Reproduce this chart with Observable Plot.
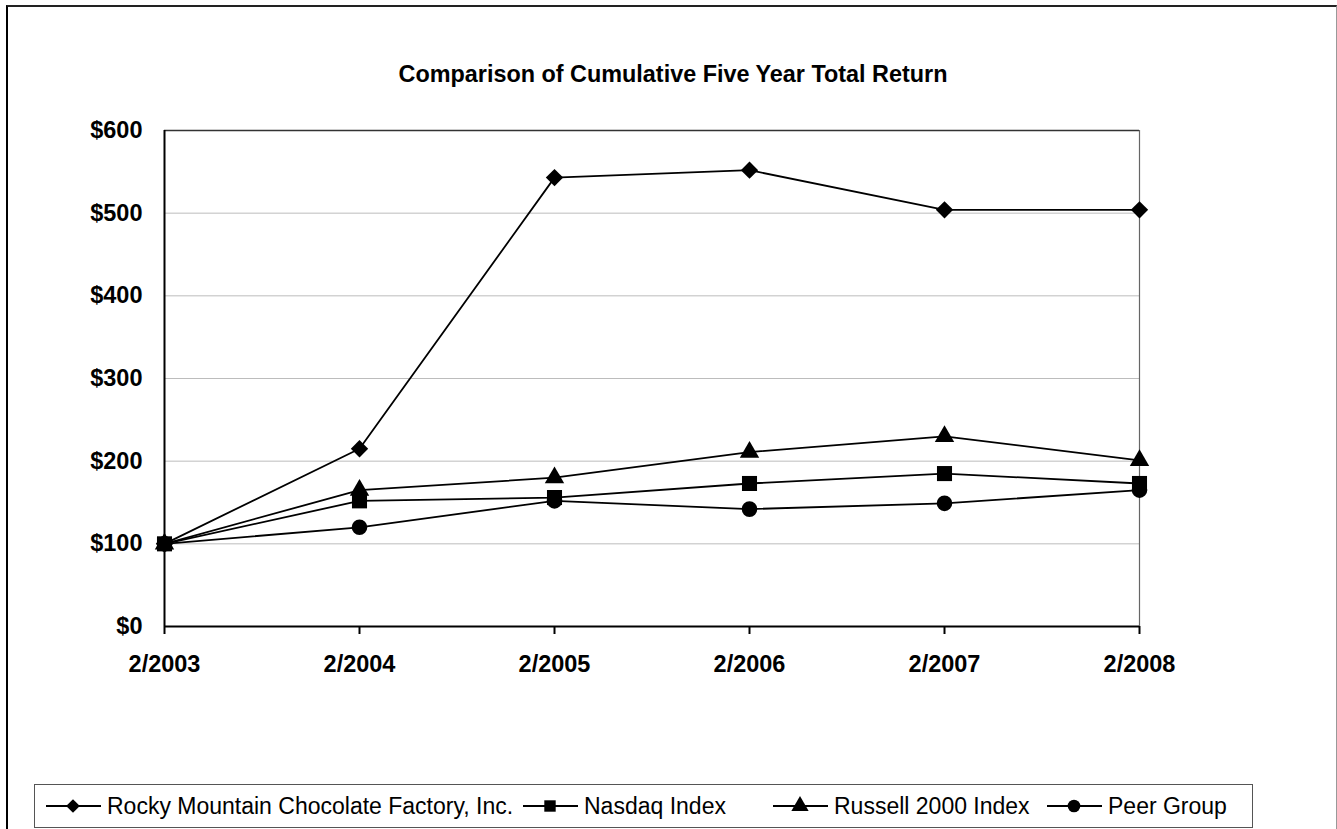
<!DOCTYPE html>
<html>
<head>
<meta charset="utf-8">
<script src="https://cdn.jsdelivr.net/npm/d3@7"></script>
<script src="https://cdn.jsdelivr.net/npm/@observablehq/plot@0.6"></script>
<style>
  html, body { margin: 0; padding: 0; background: #fff; }
  body { font-family: "Liberation Sans", Arial, sans-serif; }
  #wrap { position: relative; width: 1337px; height: 829px; overflow: hidden; background: #fff; }
  #frame { position: absolute; left: 6px; top: 5px; width: 1328px; height: 840px;
           border-left: 2px solid #000; border-top: 2px solid #222; border-right: 1px solid #999; }
  #title { position: absolute; left: 7px; width: 1332px; top: 60px; line-height: 28px; text-align: center;
           font-weight: bold; font-size: 23.4px; color: #000; }
  #chart { position: absolute; left: 0; top: 100px; }
  #legend { position: absolute; left: 34px; top: 784px; width: 1219px; height: 44px;
            border: 1px solid #555; box-sizing: border-box; }
  .item { position: absolute; top: 0; height: 42px; display: flex; align-items: center; }
  .item span { font-size: 23px; color: #000; margin-left: 6px; white-space: nowrap; }
</style>
</head>
<body>
<div id="wrap">
  <div id="frame"></div>
  <div id="title">Comparison of Cumulative Five Year Total Return</div>
  <div id="chart"></div>
  <div id="legend"></div>
</div>
<script>
// ---- data ----
const dates = ["2/2003", "2/2004", "2/2005", "2/2006", "2/2007", "2/2008"];
const seriesNames = ["Rocky Mountain Chocolate Factory, Inc.", "Nasdaq Index", "Russell 2000 Index", "Peer Group"];
const rocky   = [100, 215, 543, 552, 504, 504];
const nasdaq  = [100, 152, 156, 173, 185, 173];
const russell = [100, 165, 180, 211, 230, 201];
const peer    = [100, 120, 152, 142, 149, 165];
const yTicks  = [0, 100, 200, 300, 400, 500, 600];

const seriesValues = [rocky, nasdaq, russell, peer];
const symbols = ["diamond2", "square", "triangle", "circle"];
const radii = [7.8, 8.5, 7.2, 7.8];

const rows = [];
seriesNames.forEach((name, i) => {
  dates.forEach((d, j) => rows.push({series: name, date: d, value: seriesValues[i][j]}));
});

const drawOrder = [0, 2, 3, 1];
const marks = [
  Plot.gridY(yTicks.filter(t => t > 0 && t < 600), {stroke: "#bcbcbc", strokeOpacity: 1, strokeWidth: 1}),
  Plot.ruleY([600], {stroke: "#333", strokeWidth: 1.5}),
  Plot.ruleX([dates[dates.length - 1]], {y1: 0, y2: 600, stroke: "#666", strokeWidth: 1.2}),
  Plot.axisX({tickSize: 8, tickPadding: 21, stroke: "#000", strokeWidth: 2, fontWeight: "bold", fontSize: 23.5}),
  Plot.axisY({ticks: yTicks, tickSize: 0, tickPadding: 22, tickFormat: d => "$" + d, fontWeight: "bold", fontSize: 23.5}),
  Plot.ruleX([dates[0]], {y1: 0, y2: 600, stroke: "#000", strokeWidth: 2}),
  Plot.ruleY([0], {stroke: "#000", strokeWidth: 2}),
  Plot.line(rows, {x: "date", y: "value", z: "series", stroke: "#000", strokeWidth: 1.8})
];
drawOrder.forEach(i => {
  marks.push(Plot.dot(rows.filter(r => r.series === seriesNames[i]),
    {x: "date", y: "value", symbol: () => symbols[i], r: radii[i], fill: "#000", stroke: "none"}));
});

const plot = Plot.plot({
  width: 1337,
  height: 600,
  marginTop: 30,
  marginBottom: 74,
  marginLeft: 164,
  marginRight: 198,
  x: {type: "point", domain: dates, padding: 0, label: null},
  y: {domain: [0, 600], label: null},
  symbol: {type: "identity"},
  style: {fontFamily: "'Liberation Sans', Arial, sans-serif", color: "#000", background: "transparent", overflow: "visible"},
  marks
});
document.getElementById("chart").appendChild(plot);

// ---- legend ----
const legend = document.getElementById("legend");
const textLeft = [107, 584, 834, 1108];   // page x where each label starts
const legendSymbols = [d3.symbolDiamond2, d3.symbolSquare, d3.symbolTriangle, d3.symbolCircle];
const legendSizes = [120, 130, 130, 125];
seriesNames.forEach((name, i) => {
  const div = document.createElement("div");
  div.className = "item";
  div.style.left = (textLeft[i] - 34 - 1 - 56 - 6) + "px";
  const ns = "http://www.w3.org/2000/svg";
  const svg = document.createElementNS(ns, "svg");
  svg.setAttribute("width", 56); svg.setAttribute("height", 24);
  const ln = document.createElementNS(ns, "line");
  ln.setAttribute("x1", 1); ln.setAttribute("x2", 56); ln.setAttribute("y1", 12); ln.setAttribute("y2", 12);
  ln.setAttribute("stroke", "#000"); ln.setAttribute("stroke-width", 2);
  svg.appendChild(ln);
  const p = document.createElementNS(ns, "path");
  p.setAttribute("d", d3.symbol(legendSymbols[i], legendSizes[i])());
  p.setAttribute("transform", "translate(28,12)");
  p.setAttribute("fill", "#000");
  svg.appendChild(p);
  div.appendChild(svg);
  const sp = document.createElement("span");
  sp.textContent = name;
  div.appendChild(sp);
  legend.appendChild(div);
});
</script>
</body>
</html>
